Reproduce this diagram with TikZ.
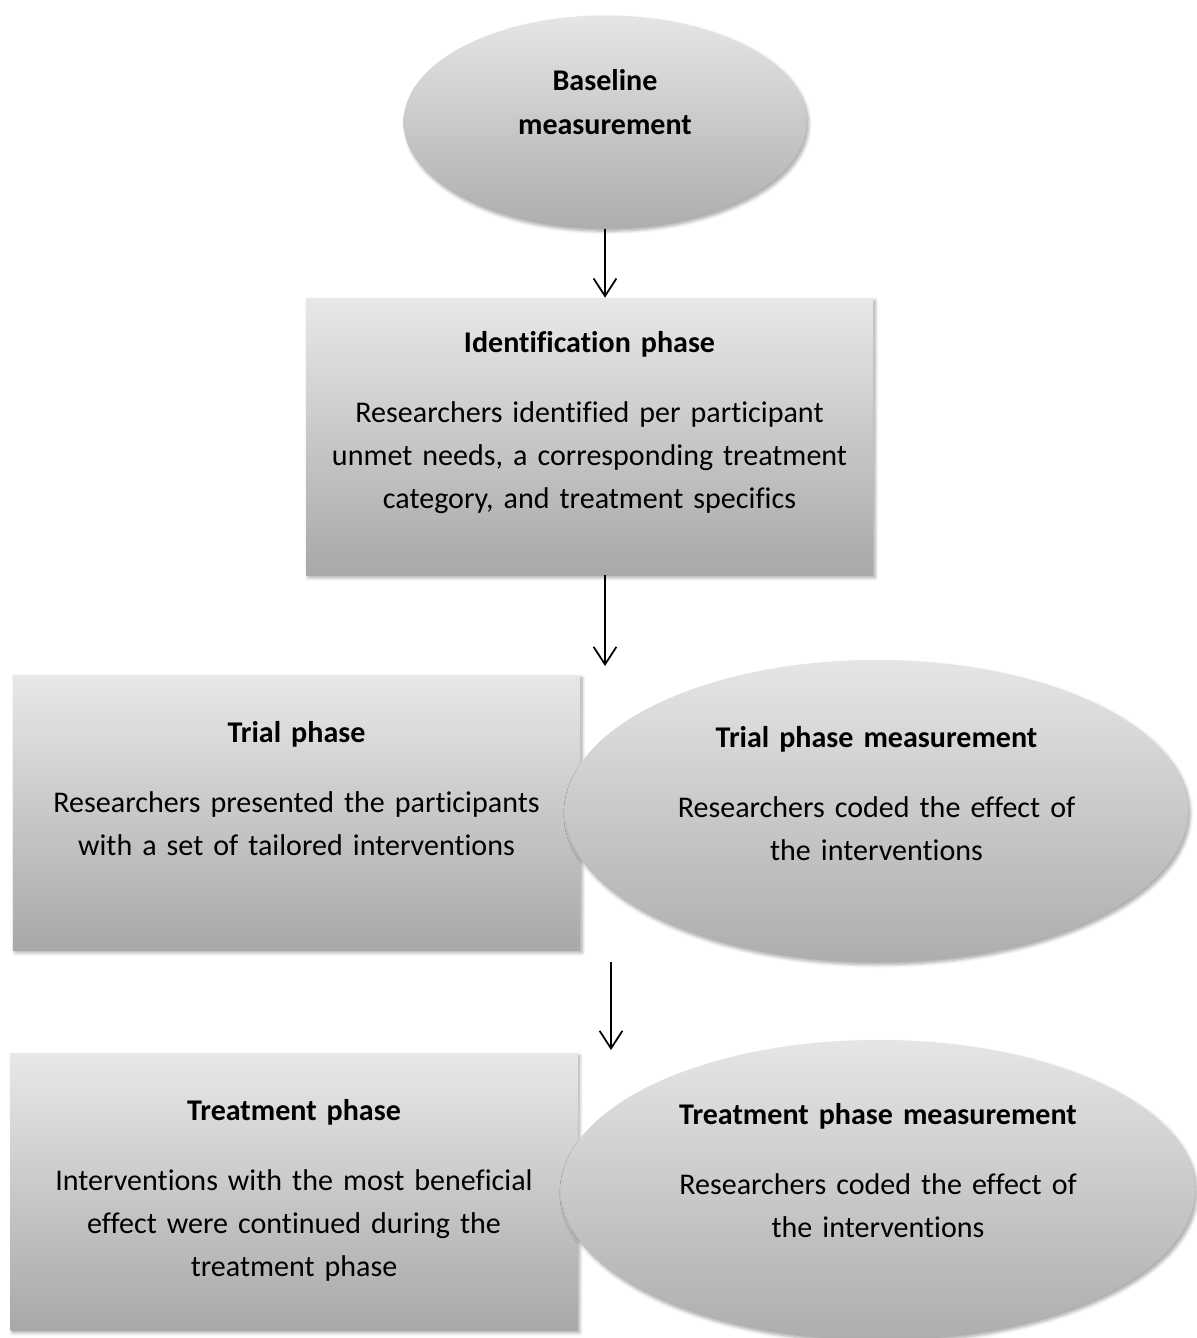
\documentclass[tikz,border=0pt]{standalone}
\usepackage{fontspec}
\setmainfont{Carlito}[Ligatures=NoCommon]
\usepackage{tikz}
\usetikzlibrary{arrows.meta,shapes.geometric,shadows.blur}
\tikzset{>={Straight Barb[length=10pt,width=13pt]}}
\tikzset{
    phasebox/.style={rectangle,inner sep=0pt,align=center,text width=11.34cm,
        top color=black!9,bottom color=black!34,
        blur shadow={shadow xshift=1.2pt,shadow yshift=-1.5pt,shadow blur steps=6,shadow opacity=35},
        font=\fontsize{17.1}{24.5}\selectfont},
    phaseoval/.style={ellipse,inner sep=0pt,align=center,text width=8.3cm,text height=0.4cm,
        top color=black!10,bottom color=black!32,
        blur shadow={shadow xshift=1.2pt,shadow yshift=-1.5pt,shadow blur steps=6,shadow opacity=35},
        font=\fontsize{17.1}{24.5}\selectfont}
}

\begin{document}
\begin{tikzpicture}[]
    \useasboundingbox (0,0) rectangle (23.94,-26.76);
    \node[phaseoval,text width=5cm,minimum width=8.06cm,minimum height=4.26cm,text depth=1.64cm] at (12.10,-2.44) (b4a5e1c0) {\textbf{Baseline}\\\textbf{measurement}};
    \node[phasebox,text height=1.08cm,text depth=4.46cm] at (11.79,-8.73) (9d1f3a72) {\textbf{Identification phase}\\[0.54cm]Researchers identified per participant\\unmet needs, a corresponding treatment\\category, and treatment specifics};
    \node[phasebox,text height=1.34cm,text depth=4.16cm] at (5.93,-16.25) (3c7e0b58) {\textbf{Trial phase}\\[0.54cm]Researchers presented the participants\\with a set of tailored interventions};
    \node[phaseoval,minimum width=12.46cm,minimum height=6.04cm,text depth=2.96cm] at (17.53,-16.22) (f21a6d94) {\textbf{Trial phase measurement}\\[0.54cm]Researchers coded the effect of\\the interventions};
    \node[phasebox,text height=1.34cm,text depth=4.20cm] at (5.88,-23.83) (6ab39e07) {\textbf{Treatment phase}\\[0.54cm]Interventions with the most beneficial\\effect were continued during the\\treatment phase};
    \node[phaseoval,minimum width=12.68cm,minimum height=6.00cm,text depth=3.04cm] at (17.56,-23.80) (a08c5f13) {\textbf{Treatment phase measurement}\\[0.54cm]Researchers coded the effect of\\the interventions};
    \coordinate (e5d2c7a1) at (12.10,-13.32);
    \coordinate (47b9f0e6) at (12.22,-19.24);
    \coordinate (c13e8a4d) at (12.22,-21.00);
    \path[->, line width=1pt]
    (b4a5e1c0) edge (b4a5e1c0.south |- 9d1f3a72.north)
    (9d1f3a72.south -| b4a5e1c0.south) edge (e5d2c7a1)
    (47b9f0e6) edge (c13e8a4d)
    ;
\end{tikzpicture}
\end{document}
